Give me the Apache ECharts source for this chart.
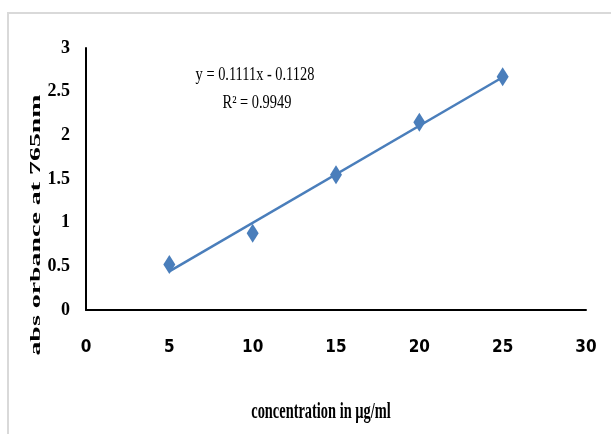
<!DOCTYPE html>
<html>
<head>
<meta charset="utf-8">
<script src="https://cdn.jsdelivr.net/npm/echarts@6/dist/echarts.min.js"></script>
<style>
  html, body { margin: 0; padding: 0; background: #ffffff; }
  #chart { width: 611px; height: 434px; }
</style>
</head>
<body>
<div id="chart"></div>
<script>
// Calibration data: concentration (µg/ml) vs absorbance at 765 nm
const concentrations = [5, 10, 15, 20, 25];
const absorbance = [0.52, 0.88, 1.55, 2.15, 2.67];

// Linear fit reported on the chart
const slope = 0.1111;
const intercept = -0.1128;
const rSquared = 0.9949;

const xTicks = { min: 0, max: 30, interval: 5 };
const yTicks = { min: 0, max: 3, interval: 0.5 };

const xTitle = 'concentration in µg/ml';
const yTitle = 'abs orbance at 765nm';
const equationText = 'y = ' + slope.toFixed(4) + 'x - ' + Math.abs(intercept).toFixed(4);
const r2Text = 'R² = ' + rSquared.toFixed(4);

const pointData = concentrations.map((c, i) => [c, absorbance[i]]);
const fitX = [concentrations[0], concentrations[concentrations.length - 1]];
const fitData = fitX.map(x => [x, slope * x + intercept]);

const chart = echarts.init(document.getElementById('chart'), null, { renderer: 'canvas' });

const serifBold = '"Liberation Serif", "Times New Roman", serif';
const sansNarrow = '"DejaVu Sans Condensed", "Liberation Sans", sans-serif';

chart.setOption({
  backgroundColor: '#ffffff',
  animation: false,
  grid: { left: 86, top: 48, right: 25, bottom: 124, containLabel: false },
  xAxis: {
    type: 'value',
    min: xTicks.min, max: xTicks.max, interval: xTicks.interval,
    axisLine: { show: true, lineStyle: { color: '#000000', width: 2 } },
    axisTick: { show: false },
    splitLine: { show: false },
    axisLabel: {
      margin: 29, color: '#000000', fontFamily: sansNarrow,
      fontWeight: 'bold', fontSize: 17
    }
  },
  yAxis: {
    type: 'value',
    min: yTicks.min, max: yTicks.max, interval: yTicks.interval,
    axisLine: { show: true, lineStyle: { color: '#000000', width: 2 } },
    axisTick: { show: false },
    splitLine: { show: false },
    axisLabel: {
      margin: 16, color: '#000000', fontFamily: serifBold,
      fontWeight: 'bold', fontSize: 18
    }
  },
  series: [
    {
      name: 'Linear fit',
      type: 'line',
      data: fitData,
      symbol: 'none',
      lineStyle: { color: '#4a7ebb', width: 2.5 },
      z: 2
    },
    {
      name: 'Absorbance',
      type: 'scatter',
      data: pointData,
      symbol: 'diamond',
      symbolSize: [12, 19],
      itemStyle: { color: '#4a7ebb', opacity: 1 },
      z: 3
    }
  ],
  graphic: [
    {
      type: 'rect',
      shape: { x: 8, y: 13, width: 700, height: 500 },
      style: { fill: 'none', stroke: '#d9d9d9', lineWidth: 2 },
      silent: true, z: -10
    },
    {
      type: 'text',
      x: 255, y: 75, scaleX: 0.8,
      style: {
        text: equationText, x: 0, y: 0,
        fontFamily: serifBold, fontSize: 18,
        fill: '#000000', textAlign: 'center', textVerticalAlign: 'middle'
      }
    },
    {
      type: 'text',
      x: 257, y: 103, scaleX: 0.8,
      style: {
        text: r2Text, x: 0, y: 0,
        fontFamily: serifBold, fontSize: 18,
        fill: '#000000', textAlign: 'center', textVerticalAlign: 'middle'
      }
    },
    {
      type: 'text',
      x: 321, y: 412, scaleX: 0.6,
      style: {
        text: xTitle, x: 0, y: 0,
        fontFamily: serifBold, fontSize: 24, fontWeight: 'bold',
        fill: '#000000', textAlign: 'center', textVerticalAlign: 'middle'
      }
    },
    {
      type: 'text',
      x: 36, y: 225, rotation: Math.PI / 2, scaleX: 1.55, scaleY: 0.85,
      style: {
        text: yTitle, x: 0, y: 0,
        fontFamily: serifBold, fontSize: 18, fontWeight: 'bold',
        fill: '#000000', textAlign: 'center', textVerticalAlign: 'middle'
      }
    }
  ]
});
</script>
</body>
</html>
